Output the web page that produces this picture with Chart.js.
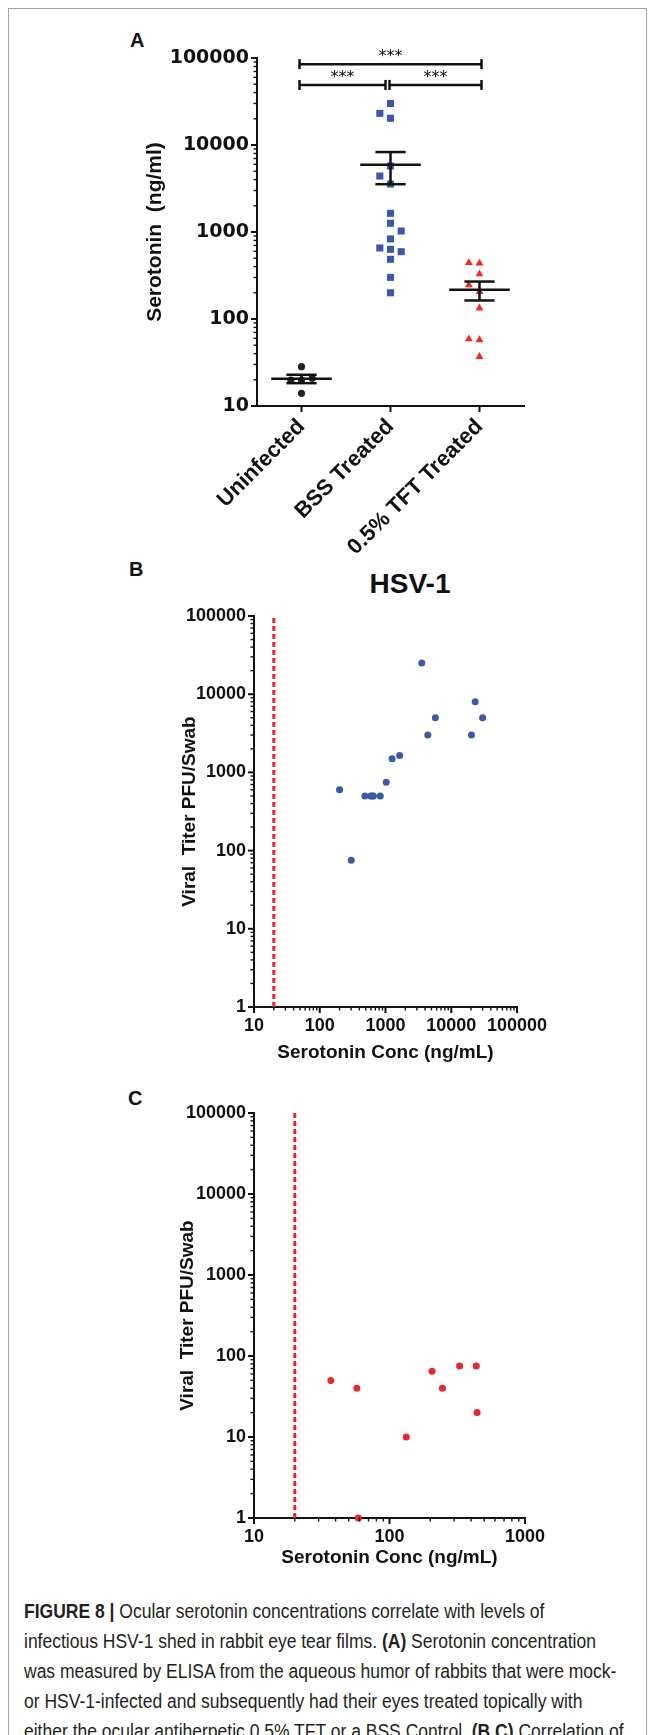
<!DOCTYPE html>
<html>
<head>
<meta charset="utf-8">
<script src="https://cdn.jsdelivr.net/npm/chart.js@4.4.1/dist/chart.umd.min.js"></script>
<style>
  html, body { margin: 0; padding: 0; background: #fff; }
  body { width: 654px; height: 1735px; position: relative; overflow: hidden; font-family: "Liberation Sans", Arial, sans-serif; }
  .frame { position: absolute; left: 8px; top: 8px; width: 637px; height: 1800px; border: 1.5px solid #a3a3a3; }
  canvas { position: absolute; left: 0; }
  .lbl { position: absolute; font-weight: bold; font-size: 20px; line-height: 20px; color: #111; }
  .title { position: absolute; width: 200px; text-align: center; font-weight: bold; font-size: 28px; line-height: 28px; color: #111; }
  .caption { position: absolute; left: 24px; top: 1596px; font-size: 20px; line-height: 30px; color: #231f20;
             white-space: nowrap; transform: scale(0.875, 1); transform-origin: 0 0; }
  .caption b { font-weight: bold; }
</style>
</head>
<body>
<div class="frame"></div>
<div class="lbl" style="left:130px; top:30px;">A</div>
<div class="lbl" style="left:129px; top:559px;">B</div>
<div class="lbl" style="left:128px; top:1088px;">C</div>
<div class="title" style="left:310px; top:570px;">HSV-1</div>

<canvas id="chartA" width="654" height="560" style="top:0px;"></canvas>
<canvas id="chartB" width="654" height="520" style="top:560px;"></canvas>
<canvas id="chartC" width="654" height="500" style="top:1080px;"></canvas>

<div class="caption"><b>FIGURE 8 |</b> Ocular serotonin concentrations correlate with levels of<br>infectious HSV-1 shed in rabbit eye tear films. <b>(A)</b> Serotonin concentration<br>was measured by ELISA from the aqueous humor of rabbits that were mock-<br>or HSV-1-infected and subsequently had their eyes treated topically with<br>either the ocular antiherpetic 0.5% TFT or a BSS Control. <b>(B,C)</b> Correlation of</div>

<script>
// ---------------- DATA ----------------
const categories = ['Uninfected', 'BSS Treated', '0.5% TFT Treated'];

const uninfectedValues = [28.3, 19.9, 19.9, 20.8, 14.0];
const uninfectedLane   = [0, -1, 0, 1, 0];

const bssValues = [30000, 23100, 20300, 5740, 4400, 3560, 1640, 1260, 1026, 832, 655, 632, 594, 485, 301, 200];
const bssLane   = [0, -1, 0, 0, -1, 0, 0, 0, 1, 0, -1, 0, 1, 0, 0, 0];

const tftValues = [443, 437, 329, 246, 206, 133, 58.9, 57.4, 36.9];
const tftLane   = [-1, 0, 0, -1, 0, 0, -1, 0, 0];

const significance = [['***', 0, 2], ['***', 0, 1], ['***', 1, 2]];

// Panel B: HSV-1 (BSS treated)
const hsvSerotonin = [200, 301, 485, 594, 632, 655, 832, 1026, 1260, 1640, 3560, 4400, 5740, 20300, 23100, 30000];
const hsvTiter     = [600, 75, 500, 500, 500, 500, 500, 750, 1500, 1650, 25000, 3000, 5000, 3000, 8000, 5000];

// Panel C: TFT treated
const tftSerotonin = [36.9, 57.4, 58.9, 133, 206, 246, 329, 437, 443];
const tftTiter     = [50, 40, 1, 10, 65, 40, 75, 75, 20];

const detectionLimit = 20;

const serotoninRangeA = [10, 100000];
const titerRange = [1, 100000];
const concRangeB = [10, 100000];
const concRangeC = [10, 1000];

// ---------------- HELPERS ----------------
const INK = '#111';
const LANE = 0.12;
function isPow10(v) { const l = Math.log10(v); return Math.abs(l - Math.round(l)) < 1e-9; }
function logTicks(min, max) {
  const t = [];
  for (let e = Math.round(Math.log10(min)); e <= Math.round(Math.log10(max)); e++) {
    const d = Math.pow(10, e);
    t.push({ value: d });
    if (d < max) for (let k = 2; k <= 9; k++) t.push({ value: d * k });
  }
  return t;
}
function mean(a) { return a.reduce((s, v) => s + v, 0) / a.length; }
function sem(a) { const m = mean(a); const v = a.reduce((s, x) => s + (x - m) * (x - m), 0) / (a.length - 1); return Math.sqrt(v / a.length); }

const tickMarks = {
  id: 'tickMarks',
  afterDraw(chart) {
    const ctx = chart.ctx;
    ctx.save();
    ctx.strokeStyle = INK;
    Object.values(chart.scales).forEach(s => {
      if (s.type !== 'logarithmic') return;
      s.ticks.forEach(t => {
        const major = isPow10(t.value);
        const len = major ? 6 : 3.5;
        ctx.lineWidth = major ? 2 : 1.4;
        const p = s.getPixelForValue(t.value);
        ctx.beginPath();
        if (s.isHorizontal()) { ctx.moveTo(p, s.top); ctx.lineTo(p, s.top + len); }
        else { ctx.moveTo(s.right, p); ctx.lineTo(s.right - len, p); }
        ctx.stroke();
      });
    });
    ctx.restore();
  }
};

const statsPlugin = {
  id: 'stats',
  afterDatasetsDraw(chart) {
    const { ctx, scales: { x, y } } = chart;
    const groups = [uninfectedValues, bssValues, tftValues];
    ctx.save();
    ctx.strokeStyle = INK;
    ctx.lineWidth = 2.5;
    const seg = (x1, y1, x2, y2) => { ctx.beginPath(); ctx.moveTo(x1, y1); ctx.lineTo(x2, y2); ctx.stroke(); };
    groups.forEach((vals, i) => {
      const m = mean(vals), se = sem(vals);
      const cx = x.getPixelForValue(i);
      const hw = x.getPixelForValue(i + 0.34) - cx;
      const cw = x.getPixelForValue(i + 0.17) - cx;
      const ym = y.getPixelForValue(m), yu = y.getPixelForValue(m + se), yl = y.getPixelForValue(m - se);
      seg(cx - hw, ym, cx + hw, ym);
      seg(cx, yu, cx, yl);
      seg(cx - cw, yu, cx + cw, yu);
      seg(cx - cw, yl, cx + cw, yl);
    });
    // significance brackets
    ctx.font = '16px "DejaVu Sans"';
    ctx.fillStyle = INK;
    ctx.textAlign = 'center';
    ctx.textBaseline = 'alphabetic';
    significance.forEach(([txt, a, b]) => {
      const wide = (b - a) > 1;
      const by = y.getPixelForValue(wide ? 85000 : 49000);
      let x1 = x.getPixelForValue(a) - 2, x2 = x.getPixelForValue(b) + 2;
      if (!wide && b === 1) x2 = x.getPixelForValue(b) - 5;
      if (!wide && a === 1) x1 = x.getPixelForValue(a) - 1;
      seg(x1, by, x2, by);
      seg(x1, by - 5, x1, by + 5);
      seg(x2, by - 5, x2, by + 5);
      ctx.fillText(txt, (x1 + x2) / 2, by - 3);
    });
    ctx.restore();
  }
};

const numFontA = { family: '"DejaVu Sans"', weight: 'bold', size: 19 };
const numFontBC = { family: '"Liberation Sans", Arial', weight: 'bold', size: 18 };
const titleFont = (sz) => ({ family: '"Liberation Sans", Arial', weight: 'bold', size: sz });

function logAxis(range, fixedSize, horizontal, font, extra) {
  return Object.assign({
    type: 'logarithmic',
    min: range[0], max: range[1],
    afterBuildTicks: s => { s.ticks = logTicks(range[0], range[1]); },
    afterFit: s => { if (horizontal) s.height = fixedSize; else s.width = fixedSize; },
    ticks: { callback: v => isPow10(v) ? String(Math.round(v)) : '', autoSkip: false, maxRotation: 0, minRotation: 0, font: font, color: INK, padding: 2 },
    grid: { drawOnChartArea: false, tickLength: 6, tickColor: 'transparent' },
    border: { display: true, color: INK, width: 2 }
  }, extra);
}

// ---------------- PANEL A ----------------
new Chart(document.getElementById('chartA'), {
  type: 'scatter',
  data: {
    datasets: [
      { data: uninfectedValues.map((v, i) => ({ x: 0 + uninfectedLane[i] * LANE, y: v })), pointStyle: 'circle', pointRadius: 3.6, backgroundColor: '#222', borderWidth: 0 },
      { data: bssValues.map((v, i) => ({ x: 1 + bssLane[i] * LANE, y: v })), pointStyle: 'rect', pointRadius: 5, backgroundColor: '#3c58a6', borderWidth: 0 },
      { data: tftValues.map((v, i) => ({ x: 2 + tftLane[i] * LANE, y: v })), pointStyle: 'triangle', pointRadius: 4.6, backgroundColor: '#ee2a24', borderWidth: 0 }
    ]
  },
  options: {
    responsive: false, animation: false,
    layout: { padding: { left: 0, top: 58, right: 130, bottom: 0 } },
    plugins: { legend: { display: false }, tooltip: { enabled: false } },
    elements: { point: { hoverRadius: 0 } },
    scales: {
      x: {
        type: 'linear', min: -0.5, max: 2.5,
        afterBuildTicks: s => { s.ticks = categories.map((c, i) => ({ value: i })); },
        afterFit: s => { s.height = 154; },
        ticks: { callback: v => categories[v] ?? '', minRotation: 45, maxRotation: 45, autoSkip: false, font: titleFont(22), color: INK, padding: 2 },
        grid: { drawOnChartArea: false, tickLength: 6, tickColor: INK, tickWidth: 2 },
        border: { display: true, color: INK, width: 2 }
      },
      y: logAxis(serotoninRangeA, 257, false, numFontA, {
        title: { display: true, text: 'Serotonin  (ng/ml)', font: titleFont(21), color: INK, padding: { top: 143, bottom: 0 } }
      })
    }
  },
  plugins: [tickMarks, statsPlugin]
});

// ---------------- PANELS B, C ----------------
function corrChart(id, xs, ys, color, xRange, pad, xAxisH, titlePadX, titlePadY) {
  return new Chart(document.getElementById(id), {
    type: 'scatter',
    data: {
      datasets: [
        { type: 'line', data: [{ x: detectionLimit, y: titerRange[0] }, { x: detectionLimit, y: titerRange[1] }], borderColor: '#e8262e', borderWidth: 3, borderDash: [5, 3], pointRadius: 0, fill: false, clip: false },
        { data: xs.map((v, i) => ({ x: v, y: ys[i] })), pointStyle: 'circle', pointRadius: 3.5, backgroundColor: color, borderWidth: 0, clip: 8 }
      ]
    },
    options: {
      responsive: false, animation: false,
      layout: { padding: pad },
      plugins: { legend: { display: false }, tooltip: { enabled: false } },
      elements: { point: { hoverRadius: 0 } },
      scales: {
        x: logAxis(xRange, xAxisH, true, numFontBC, {
          title: { display: true, text: 'Serotonin Conc (ng/mL)', font: titleFont(19), color: INK, padding: { top: 0, bottom: titlePadX } }
        }),
        y: logAxis(titerRange, 254, false, numFontBC, {
          title: { display: true, text: 'Viral  Titer PFU/Swab', font: titleFont(19), color: INK, padding: { top: titlePadY, bottom: 0 } }
        })
      }
    },
    plugins: [tickMarks]
  });
}

corrChart('chartB', hsvSerotonin, hsvTiter, '#3c58a6', concRangeB, { left: 0, top: 56, right: 137, bottom: 0 }, 73, 15.6, 178);
corrChart('chartC', tftSerotonin, tftTiter, '#e8262e', concRangeC, { left: 0, top: 33, right: 129, bottom: 0 }, 62, 10.6, 176);
</script>
</body>
</html>
